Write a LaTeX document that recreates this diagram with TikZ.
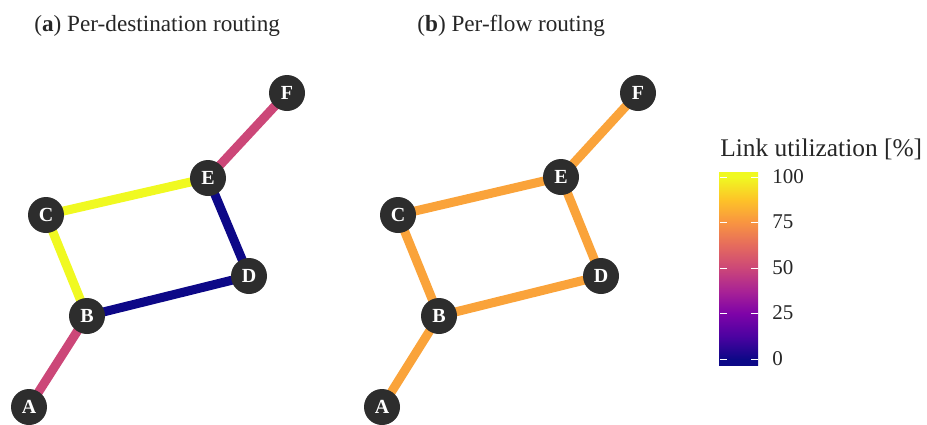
\documentclass[tikz,border=0pt]{standalone}
\usepackage{fontspec}
\setmainfont{Liberation Serif}
\usetikzlibrary{backgrounds}

% plasma colour map
\definecolor{pl0}{HTML}{0D0887}
\definecolor{pl1}{HTML}{4C02A1}
\definecolor{pl2}{HTML}{7E03A8}
\definecolor{pl3}{HTML}{A92395}
\definecolor{pl4}{HTML}{CC4778}
\definecolor{pl5}{HTML}{E56B5D}
\definecolor{pl6}{HTML}{F89441}
\definecolor{pl7}{HTML}{FDC328}
\definecolor{pl8}{HTML}{F0F921}
\definecolor{load50}{HTML}{CC4778}
\definecolor{load80}{HTML}{FAA33A}
\definecolor{nodegray}{HTML}{2D2D2D}

\pgfdeclareverticalshading{plasma}{100bp}{color(0bp)=(pl0); color(26.55bp)=(pl0);
  color(32.44bp)=(pl1); color(38.34bp)=(pl2); color(44.23bp)=(pl3); color(50.13bp)=(pl4);
  color(56.02bp)=(pl5); color(61.91bp)=(pl6); color(67.81bp)=(pl7); color(73.7bp)=(pl8);
  color(100bp)=(pl8)}

\tikzset{
  router/.style={circle,fill=nodegray,text=white,font=\bfseries,minimum size=18pt,inner sep=0pt},
  link/.style={line width=4.5pt},
  title/.style={anchor=base west,inner sep=0pt,text=black!85,font=\fontsize{11.6}{14}\selectfont},
  bartitle/.style={title,font=\fontsize{12.7}{15}\selectfont},
  barlabel/.style={anchor=west,inner sep=0pt,text=black!85,font=\fontsize{10.5}{12}\selectfont},
  bartick/.style={white,line width=0.5pt},
}

\begin{document}
\begin{tikzpicture}[x=0.5pt,y=-0.5pt]
\useasboundingbox (0,0) rectangle (927,424);
% Titles
  \node[title] (ta) at (34,31) {(\textbf{a}) Per-destination routing};
  \node[title] (tb) at (417,31) {(\textbf{b}) Per-flow routing};
% Per-destination routing
  \node[router] (aA) at (29,407) {A};
  \node[router] (aB) at (87,316) {B};
  \node[router] (aC) at (46,215) {C};
  \node[router] (aD) at (249,276) {D};
  \node[router] (aE) at (208,178) {E};
  \node[router] (aF) at (287,93) {F};
  \begin{scope}[on background layer]
    \draw[link,load50] (aA.center) -- (aB.center);
    \draw[link,pl8] (aB.center) -- (aC.center);
    \draw[link,pl0] (aB.center) -- (aD.center);
    \draw[link,pl8] (aC.center) -- (aE.center);
    \draw[link,pl0] (aD.center) -- (aE.center);
    \draw[link,load50] (aE.center) -- (aF.center);
  \end{scope}
% Per-flow routing
  \node[router] (bA) at (382,407) {A};
  \node[router] (bB) at (439,316) {B};
  \node[router] (bC) at (398,215) {C};
  \node[router] (bD) at (601,276) {D};
  \node[router] (bE) at (561,177) {E};
  \node[router] (bF) at (638,93) {F};
  \begin{scope}[on background layer]
    \draw[link,load80] (bA.center) -- (bB.center);
    \draw[link,load80] (bB.center) -- (bC.center);
    \draw[link,load80] (bB.center) -- (bD.center);
    \draw[link,load80] (bC.center) -- (bE.center);
    \draw[link,load80] (bD.center) -- (bE.center);
    \draw[link,load80] (bE.center) -- (bF.center);
  \end{scope}
% Colour bar
  \node[bartitle] (ctitle) at (720,156) {Link utilization [\%]};
  \shade[shading=plasma] (719,172) rectangle (758,365);
  \foreach \v/\y in {100/177,75/222,50/268,25/313,0/359} {
    \draw[bartick] (720,\y) -- +(7,0);
    \draw[bartick] (751,\y) -- +(7,0);
    \node[barlabel] (l\v) at (772,\y) {\v};
  }
\end{tikzpicture}
\end{document}
